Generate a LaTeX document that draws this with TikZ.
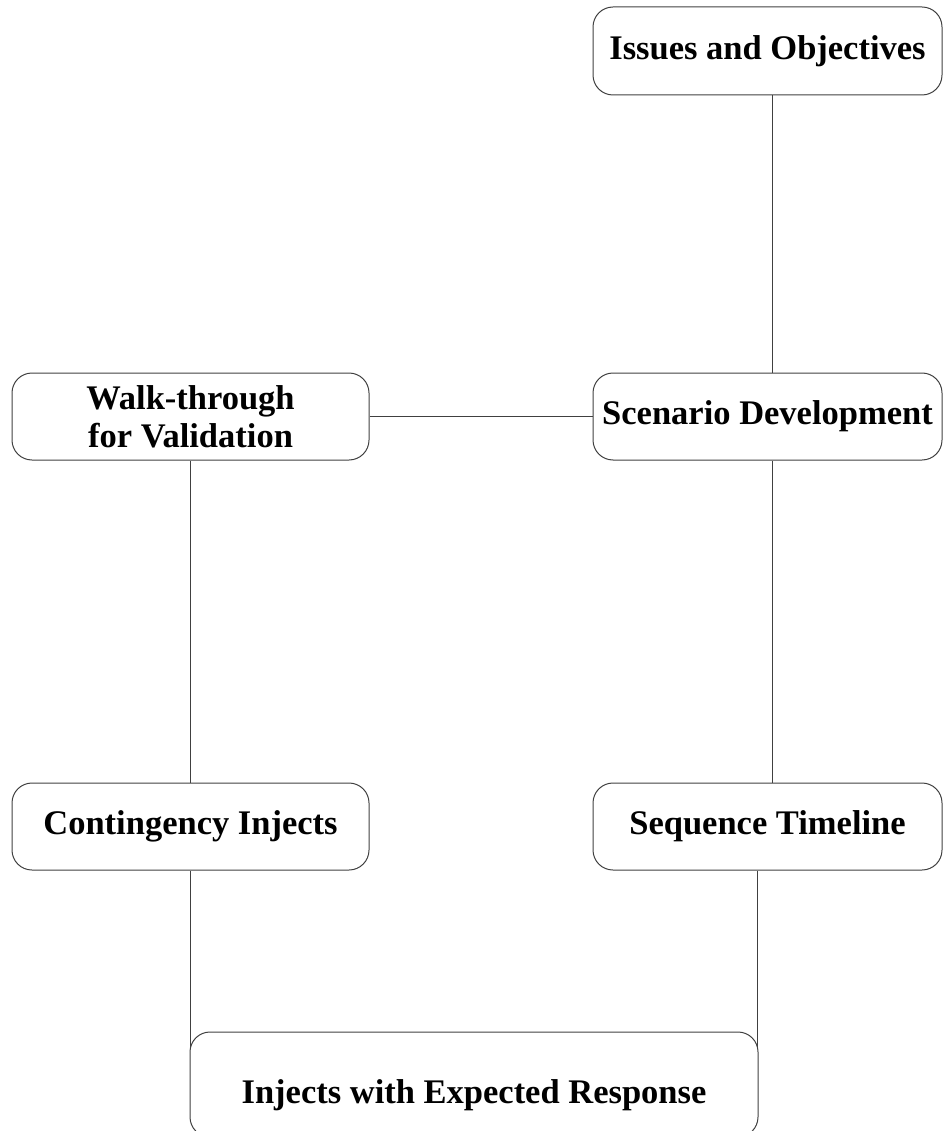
\documentclass[tikz,border=0pt]{standalone}
\usepackage{fontspec}
\setmainfont{Liberation Serif}
\usetikzlibrary{calc}
\begin{document}
\begin{tikzpicture}[x=1pt,y=-1pt,
  box/.style={draw=black!75, line width=1pt, rounded corners=20pt, inner sep=0pt,
    font=\fontsize{34.5}{38}\selectfont\bfseries},
  link/.style={draw=black!75, line width=1pt}]
\useasboundingbox (0,0) rectangle (943,1131);
\node[box, minimum width=349pt, minimum height=88pt] (issues) at (767.5,51) {Issues and Objectives};
\node[box, minimum width=349pt, minimum height=87pt] (scen) at (767.5,416.5) {Scenario Development};
\node[box, align=center, minimum width=357pt, minimum height=87pt] (walk) at (190.5,416.5) {Walk-through\\for Validation};
\node[box, minimum width=357pt, minimum height=87pt] (cont) at (190.5,826.5) {Contingency Injects};
\node[box, minimum width=349pt, minimum height=87pt] (seq) at (767.5,826.5) {Sequence Timeline};
\node[box, minimum width=568pt, minimum height=105pt, text height=46pt, text depth=7.6pt] (inj) at (474,1084.5) {Injects with Expected Response};
\coordinate (injL) at ($(inj.north west)+(1.5,16)$);
\coordinate (injR) at ($(inj.north east)+(-1.5,16)$);
\draw[link] ([xshift=4.5pt]issues.south) -- ([xshift=4.5pt]scen.north);
\draw[link] (walk.east) -- (scen.west);
\draw[link] (walk.south) -- (cont.north);
\draw[link] ([xshift=4.5pt]scen.south) -- ([xshift=4.5pt]seq.north);
\draw[link] (cont.south) -- (cont.south |- injL);
\draw[link] ([xshift=-10.5pt]seq.south) -- ([xshift=-10.5pt]seq.south |- injR);
\end{tikzpicture}
\end{document}
